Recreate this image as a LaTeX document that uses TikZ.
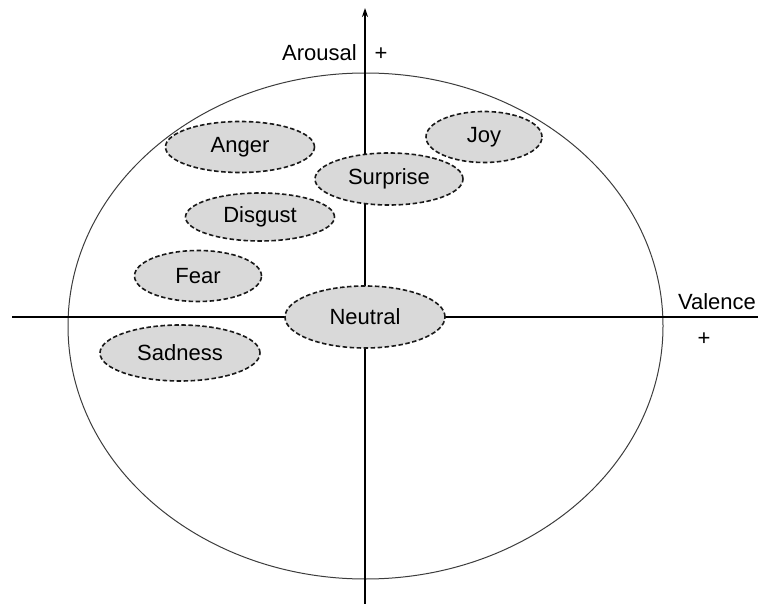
\documentclass[tikz,border=0pt]{standalone}
\usepackage{fontspec}
\setmainfont{Liberation Sans}
\usetikzlibrary{shapes.geometric,arrows.meta}
\definecolor{emofill}{RGB}{217,217,217}
\definecolor{ringcol}{RGB}{60,60,60}
\begin{document}
\begin{tikzpicture}[x=1pt,y=-1pt,
  emo/.style={ellipse,draw=black!90,fill=emofill,line width=1.6pt,
    dash pattern=on 4.5pt off 2.5pt,inner sep=0pt,
    font=\fontsize{22}{25}\selectfont},
  lbl/.style={font=\fontsize{22}{25}\selectfont,inner sep=0pt},
  axis/.style={line width=1.6pt,black}]
\useasboundingbox (0,0) rectangle (760,604);
\node[draw=ringcol,line width=1pt,ellipse,minimum width=595pt,minimum height=506pt,inner sep=0pt] (ring) at (365.5,326) {};
\coordinate (vtop) at (365,8);
\coordinate (vbot) at (365,604);
\coordinate (hleft) at (12,317);
\coordinate (hright) at (758,317);
\draw[axis,-{Stealth[length=9pt,width=6pt]}] (vbot) -- (vtop);
\draw[axis] (hleft) -- (hright);
\node[lbl,anchor=east] (arousal) at (357,53) {Arousal};
\node[lbl] (aplus) at (381,54) {+};
\node[lbl] (valence) at (717,302) {Valence};
\node[lbl] (vplus) at (704,339) {+};
\node[emo,minimum width=149pt,minimum height=51pt] (anger) at (240,147) {Anger};
\node[emo,minimum width=149pt,minimum height=48pt] (disgust) at (260,217) {Disgust};
\node[emo,minimum width=148pt,minimum height=52pt] (surprise) at (389,179) {Surprise};
\node[emo,minimum width=116pt,minimum height=51pt] (joy) at (484,137) {Joy};
\node[emo,minimum width=127pt,minimum height=51pt] (fear) at (198,276) {Fear};
\node[emo,minimum width=160pt,minimum height=56pt] (sadness) at (180,353) {Sadness};
\node[emo,minimum width=160pt,minimum height=62pt] (neutral) at (365,317) {Neutral};
\end{tikzpicture}
\end{document}
